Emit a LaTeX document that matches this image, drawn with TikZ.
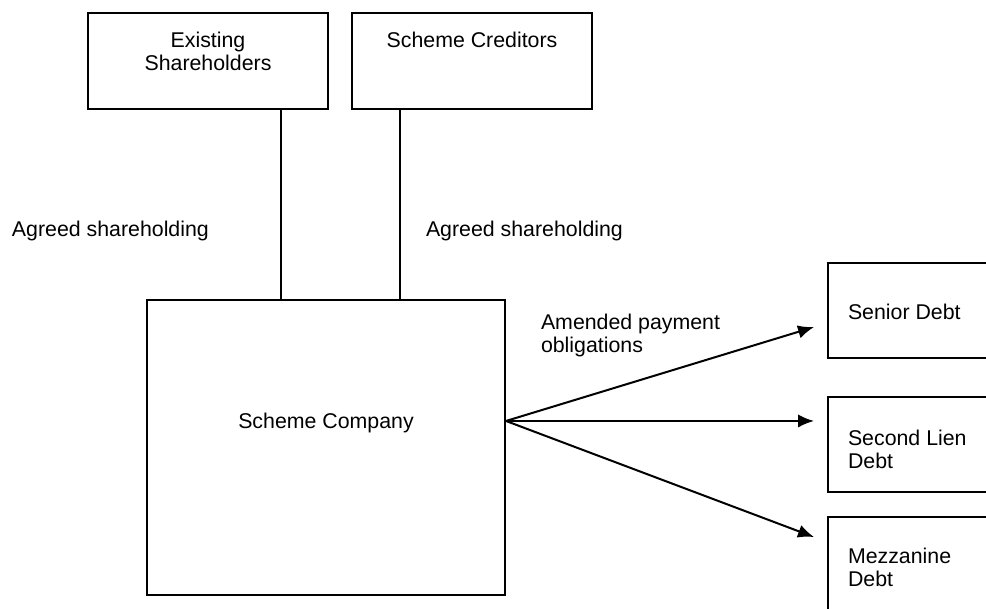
\documentclass[tikz,border=0pt]{standalone}
\usepackage{fontspec}
\setmainfont{Liberation Sans}
\usetikzlibrary{arrows.meta,positioning}

\begin{document}
\begin{tikzpicture}[x=0.75pt, y=-0.75pt, line width=1.5pt,
	every node/.style={font=\fontsize{16}{17}\selectfont, inner sep=0pt},
	box/.style={draw, rectangle, minimum width=180pt, minimum height=72pt},
	debtbox/.style={draw, rectangle, minimum width=121.5pt, minimum height=71.25pt},
	>={Latex[length=12pt, width=10pt]}]
	\useasboundingbox (0,0) rectangle (986,608);
	% top boxes
	\node[box] (es) at (208,61) {};
	\node[box] (sc) at (472,61) {};
	\node[below=14.25pt of es.north, align=center] (estext) {Existing\\Shareholders};
	\node[below=14.25pt of sc.north] (sctext) {Scheme Creditors};
	% company
	\node[draw, rectangle, minimum width=268.5pt, minimum height=221.25pt] (co) at (326,447.5) {};
	\node[anchor=base] (cotext) at ([yshift=13.9pt]co.center) {Scheme Company};
	% debt boxes
	\node[debtbox] (sd) at (909,310.5) {};
	\node[debtbox] (sl) at (909,444.5) {};
	\node[debtbox] (mz) at (909,564.5) {};
	\node[below right=30.75pt and 15pt of sd.north west] (sdtext) {Senior Debt};
	\node[below right=24.75pt and 15pt of sl.north west, align=left] (sltext) {Second Lien\\Debt};
	\node[below right=23.25pt and 15pt of mz.north west, align=left] (mztext) {Mezzanine\\Debt};
	% shareholding links
	\draw ([xshift=-36pt]es.south east) -- ([xshift=-36pt]es.south east |- co.north);
	\draw ([xshift=36.75pt]sc.south west) -- ([xshift=36.75pt]sc.south west |- co.north);
	\node[anchor=base west] (agl) at (11,236) {Agreed shareholding};
	\node[anchor=base west] (agr) at (425,236) {Agreed shareholding};
	% payment arrows
	\coordinate (fan) at ([yshift=19.9pt]co.east);
	\coordinate (sdin) at ([xshift=-9.75pt, yshift=-12.4pt]sd.west);
	\coordinate (slin) at ([xshift=-9.75pt]fan -| sl.west);
	\coordinate (mzin) at ([xshift=-9.75pt, yshift=20.6pt]mz.west);
	\draw[->] (fan) -- (sdin);
	\draw[->] (fan) -- (slin);
	\draw[->] (fan) -- (mzin);
	\node[anchor=north west, align=left] (amtext) at (540,313) {Amended payment\\obligations};
\end{tikzpicture}
\end{document}
